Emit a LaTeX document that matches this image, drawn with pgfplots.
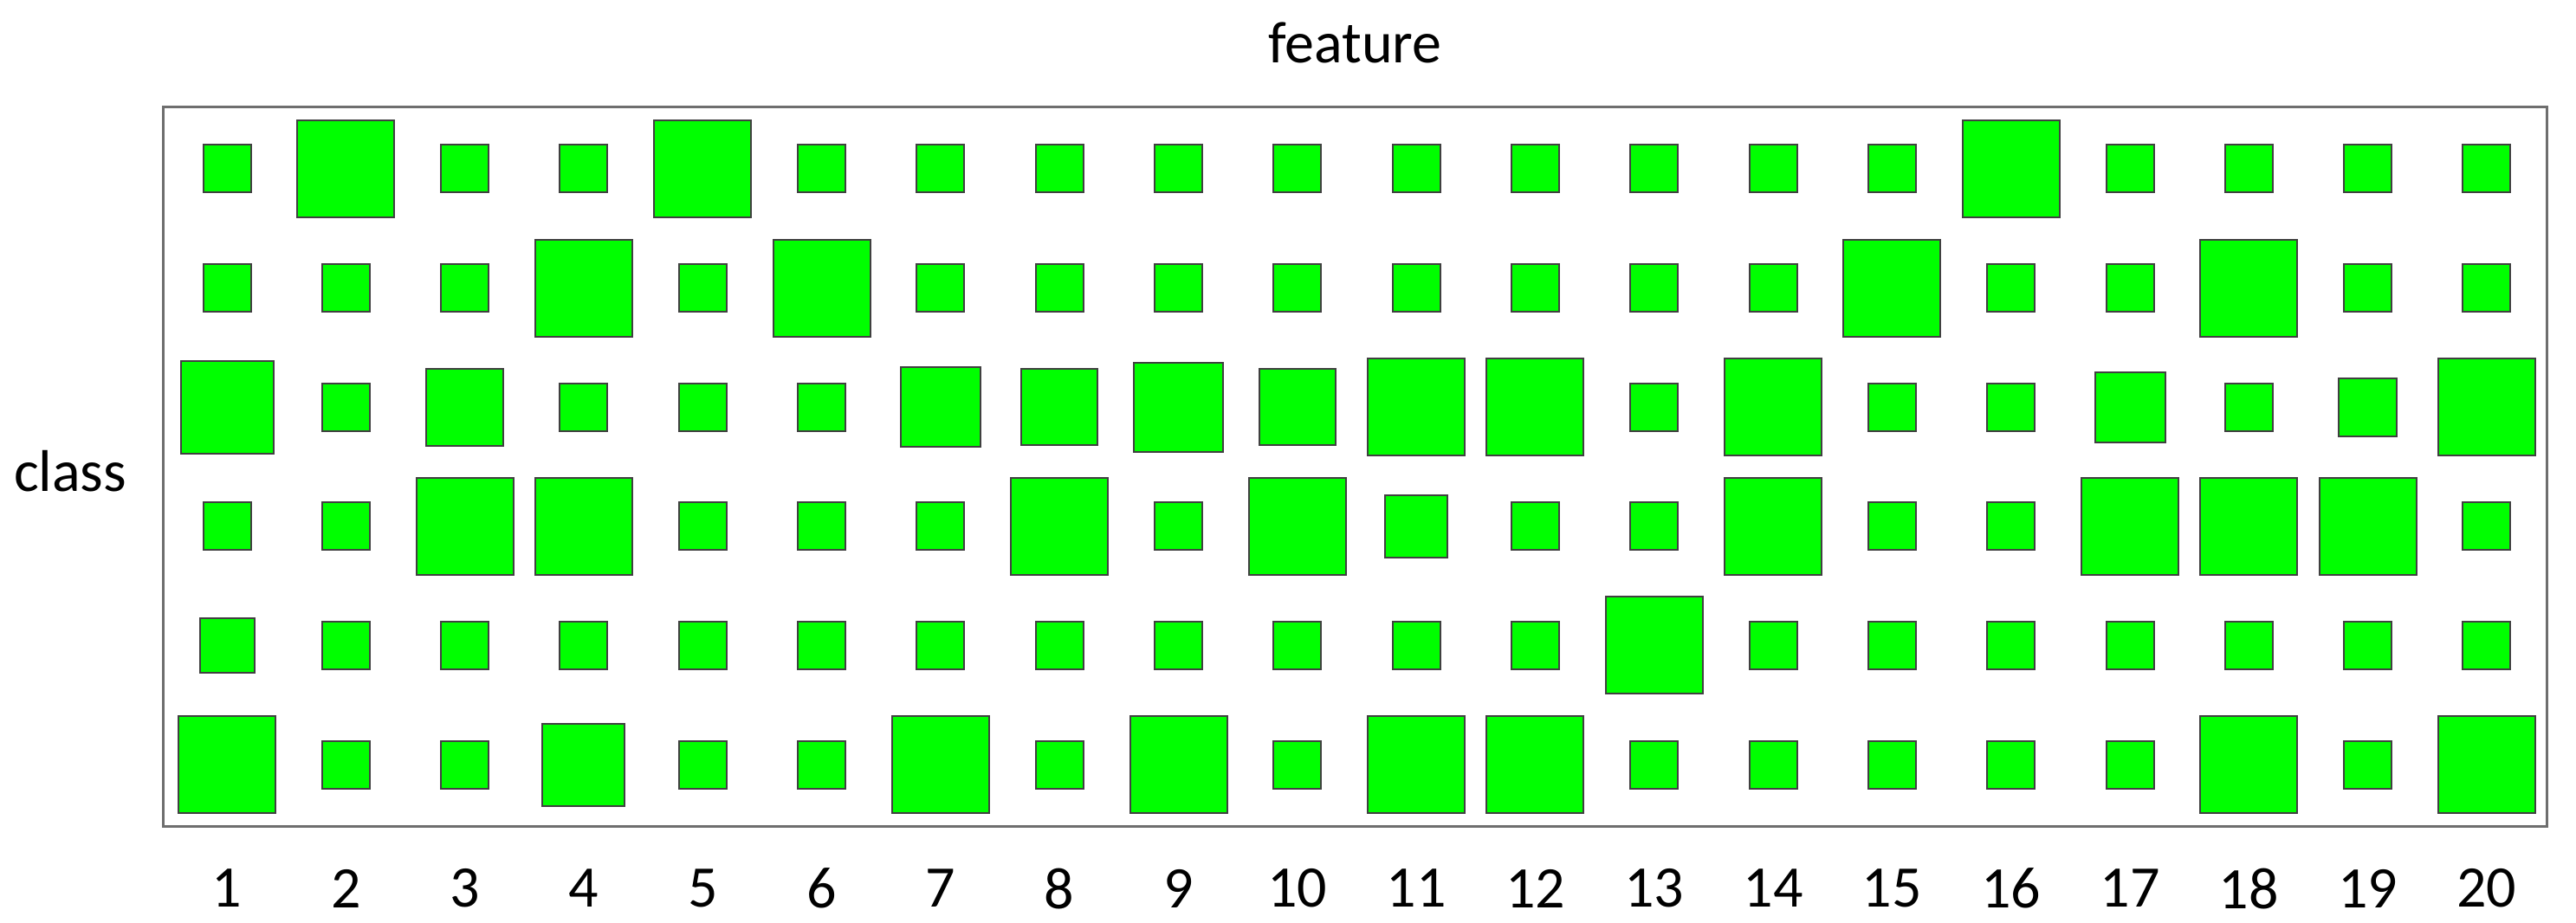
\documentclass[border=0pt]{standalone}
\usepackage{pgfplots}
\pgfplotsset{compat=1.18}
\usepackage{pgfplotstable}
\usepackage{fontspec}
\setmainfont{Carlito}
\definecolor{sqfill}{RGB}{0,255,0}
\definecolor{sqdraw}{RGB}{64,64,64}
\definecolor{boxcol}{RGB}{110,110,110}
\pgfplotstableread{
x y s
1 6 57
2 6 114
3 6 57
4 6 57
5 6 114
6 6 57
7 6 57
8 6 57
9 6 57
10 6 57
11 6 57
12 6 57
13 6 57
14 6 57
15 6 57
16 6 114
17 6 57
18 6 57
19 6 57
20 6 57
1 5 57
2 5 57
3 5 57
4 5 114
5 5 57
6 5 114
7 5 57
8 5 57
9 5 57
10 5 57
11 5 57
12 5 57
13 5 57
14 5 57
15 5 114
16 5 57
17 5 57
18 5 114
19 5 57
20 5 57
1 4 109
2 4 57
3 4 91
4 4 57
5 4 57
6 4 57
7 4 94
8 4 90
9 4 105
10 4 90
11 4 114
12 4 114
13 4 57
14 4 114
15 4 57
16 4 57
17 4 83
18 4 57
19 4 69
20 4 114
1 3 57
2 3 57
3 3 114
4 3 114
5 3 57
6 3 57
7 3 57
8 3 114
9 3 57
10 3 114
11 3 74
12 3 57
13 3 57
14 3 114
15 3 57
16 3 57
17 3 114
18 3 114
19 3 114
20 3 57
1 2 65
2 2 57
3 2 57
4 2 57
5 2 57
6 2 57
7 2 57
8 2 57
9 2 57
10 2 57
11 2 57
12 2 57
13 2 114
14 2 57
15 2 57
16 2 57
17 2 57
18 2 57
19 2 57
20 2 57
1 1 114
2 1 57
3 1 57
4 1 97
5 1 57
6 1 57
7 1 114
8 1 57
9 1 114
10 1 57
11 1 114
12 1 114
13 1 57
14 1 57
15 1 57
16 1 57
17 1 57
18 1 114
19 1 57
20 1 114
}\sqdata
\begin{document}
\begin{tikzpicture}
\useasboundingbox (-47.25pt,-27.75pt) rectangle (696.25pt,238.5pt);
\begin{axis}[
  scale only axis,
  width=687.75pt, height=207.75pt,
  xmin=0.468, xmax=20.503,
  ymin=0.484, ymax=6.523,
  xtick={1,...,20},
  ytick=\empty,
  major tick length=0pt,
  axis line style={draw=boxcol, line width=0.75pt},
  clip=false,
  /pgf/number format/assume math mode=true,
  xticklabel style={font=\fontsize{17}{20}\selectfont, anchor=center, inner sep=0pt, yshift=-18pt},
  title={feature},
  every axis title shift=0pt,
  title style={font=\fontsize{17}{20}\selectfont, at={(rel axis cs:0.5,1)}, anchor=center, inner sep=0pt, yshift=18.5pt},
  ylabel={class},
  every axis y label/.style={at={(rel axis cs:0,0.5)}, anchor=east, inner sep=0pt, xshift=-10.5pt, yshift=-1.5pt, font=\fontsize{17}{20}\selectfont},
]
\addplot[
  scatter, only marks, mark=square*,
  mark options={line width=0.5pt},
  scatter/use mapped color={draw=sqdraw, fill=sqfill},
  visualization depends on={\thisrow{s}/8-0.25 \as \perpointmarksize},
  scatter/@pre marker code/.append style={/tikz/mark size=\perpointmarksize},
] table[x=x, y=y] {\sqdata};
\end{axis}
\end{tikzpicture}
\end{document}
